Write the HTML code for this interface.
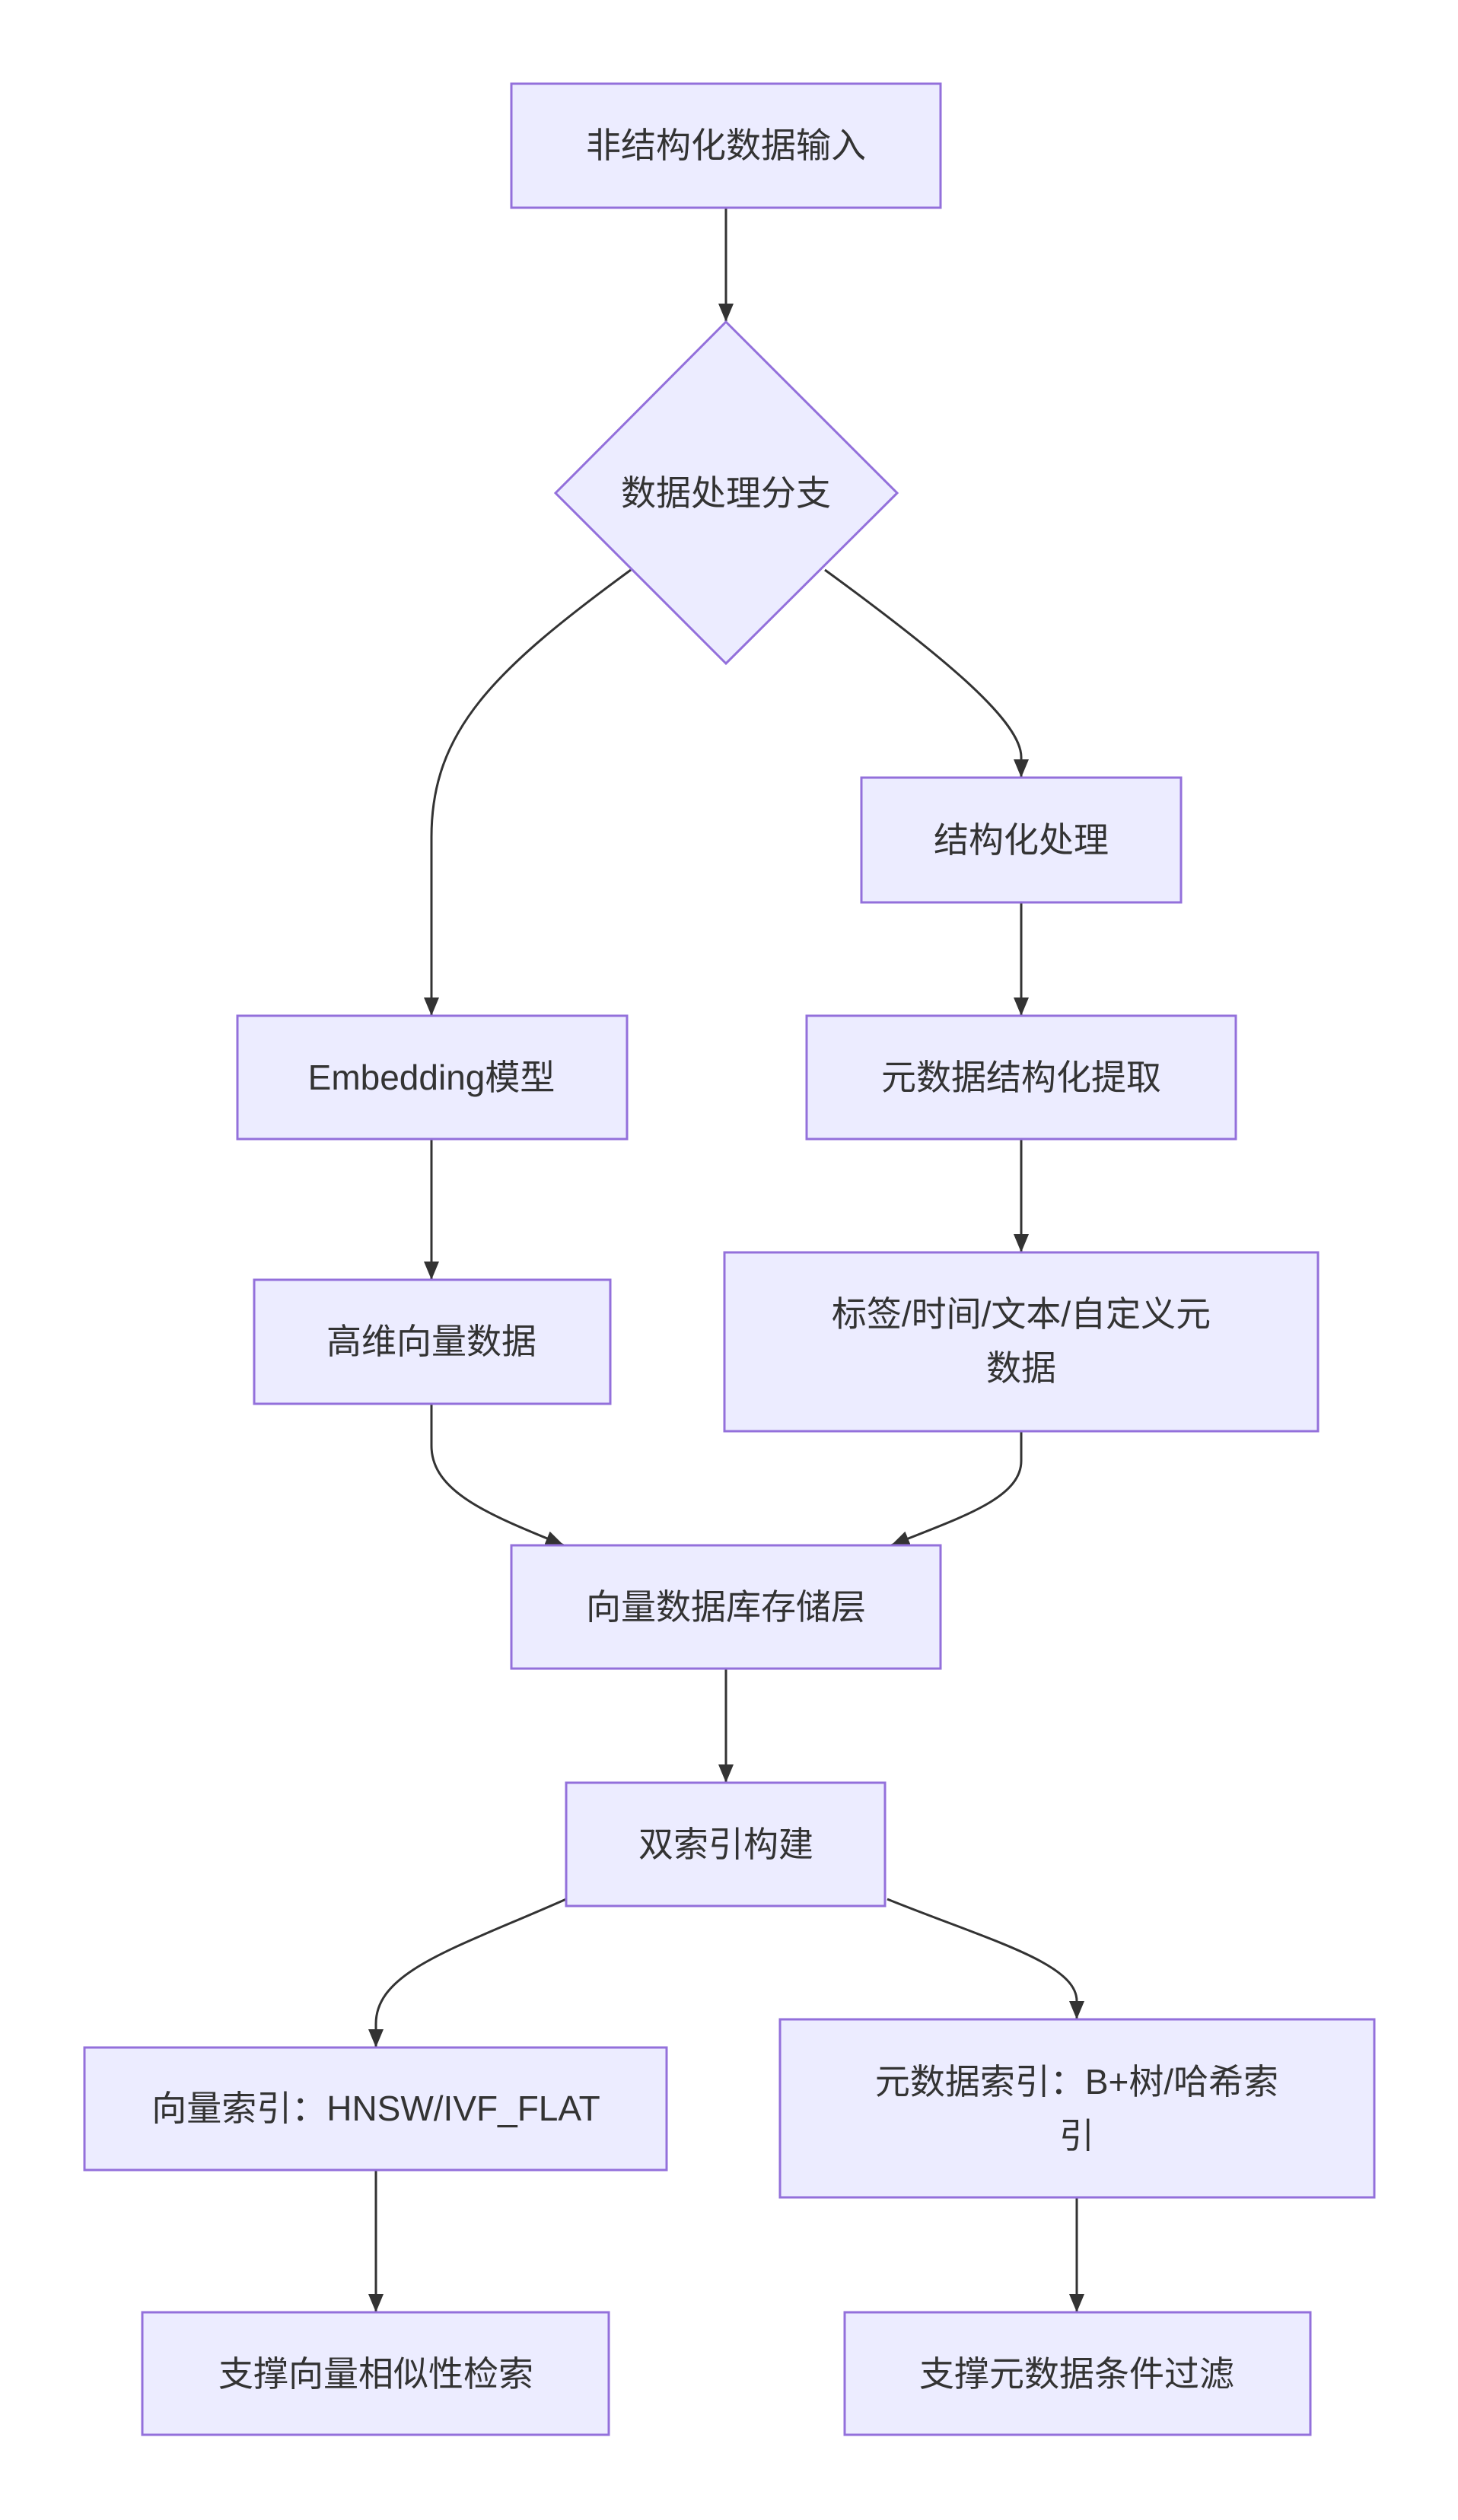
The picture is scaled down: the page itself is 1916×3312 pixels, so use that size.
<!DOCTYPE html>
<html><head><meta charset="utf-8"><style>
html,body{margin:0;padding:0;background:#fff}
svg{display:block}
text{font-family:"Liberation Sans","Noto Sans CJK SC",sans-serif;font-size:46px;fill:#333;text-anchor:middle;dominant-baseline:central}
.n{fill:#ECECFF;stroke:#9370DB;stroke-width:3}
.e{fill:none;stroke:#333;stroke-width:3}
</style></head><body>
<svg width="1916" height="3312" viewBox="0 0 1916 3312" xmlns="http://www.w3.org/2000/svg">
<defs><marker id="a" markerUnits="userSpaceOnUse" markerWidth="26" markerHeight="22" refX="24" refY="10" orient="auto"><path d="M0,0 L24,10 L0,20 z" fill="#333"/></marker></defs>
<!-- edges -->
<path class="e" d="M954,273 L954,423" marker-end="url(#a)"/>
<path class="e" d="M829,749 C650,880 567,960 567,1100 L567,1335" marker-end="url(#a)"/>
<path class="e" d="M1084,749 C1250,870 1342,950 1342,995 L1342,1022" marker-end="url(#a)"/>
<path class="e" d="M1342,1186 L1342,1335" marker-end="url(#a)"/>
<path class="e" d="M567,1497 L567,1682" marker-end="url(#a)"/>
<path class="e" d="M1342,1497 L1342,1646" marker-end="url(#a)"/>
<path class="e" d="M567,1845 L567,1900 C567,1960 640,1990 741,2031" marker-end="url(#a)"/>
<path class="e" d="M1342,1881 L1342,1920 C1342,1970 1260,1995 1171,2031" marker-end="url(#a)"/>
<path class="e" d="M954,2193 L954,2343" marker-end="url(#a)"/>
<path class="e" d="M744,2496 C600,2560 494,2590 494,2660 L494,2691" marker-end="url(#a)"/>
<path class="e" d="M1166,2496 C1300,2550 1415,2580 1415,2630 L1415,2654" marker-end="url(#a)"/>
<path class="e" d="M494,2852 L494,3039" marker-end="url(#a)"/>
<path class="e" d="M1415,2888 L1415,3039" marker-end="url(#a)"/>
<!-- nodes -->
<rect class="n" x="672" y="110" width="564" height="163"/><text x="954" y="191">非结构化数据输入</text>
<polygon class="n" points="954,423 1179,648 954,872 730,648"/><text x="954" y="648">数据处理分支</text>
<rect class="n" x="1132" y="1022" width="420" height="164"/><text x="1342" y="1104">结构化处理</text>
<rect class="n" x="312" y="1335" width="512" height="162"/><text x="567" y="1416">Embedding模型</text>
<rect class="n" x="1060" y="1335" width="564" height="162"/><text x="1342" y="1416">元数据结构化提取</text>
<rect class="n" x="334" y="1682" width="468" height="163"/><text x="567" y="1763">高维向量数据</text>
<rect class="n" x="952" y="1646" width="780" height="235"/><text x="1342" y="1727">标签/时间/文本/自定义元</text><text x="1342" y="1798">数据</text>
<rect class="n" x="672" y="2031" width="564" height="162"/><text x="954" y="2112">向量数据库存储层</text>
<rect class="n" x="744" y="2343" width="419" height="162"/><text x="954" y="2424">双索引构建</text>
<rect class="n" x="111" y="2691" width="765" height="161"/><text x="494" y="2771">向量索引：HNSW/IVF_FLAT</text>
<rect class="n" x="1025" y="2654" width="781" height="234"/><text x="1415" y="2736">元数据索引：B+树/哈希索</text><text x="1415" y="2807">引</text>
<rect class="n" x="187" y="3039" width="613" height="161"/><text x="494" y="3120">支撑向量相似性检索</text>
<rect class="n" x="1110" y="3039" width="612" height="161"/><text x="1415" y="3120">支撑元数据条件过滤</text>
</svg>
</body></html>
